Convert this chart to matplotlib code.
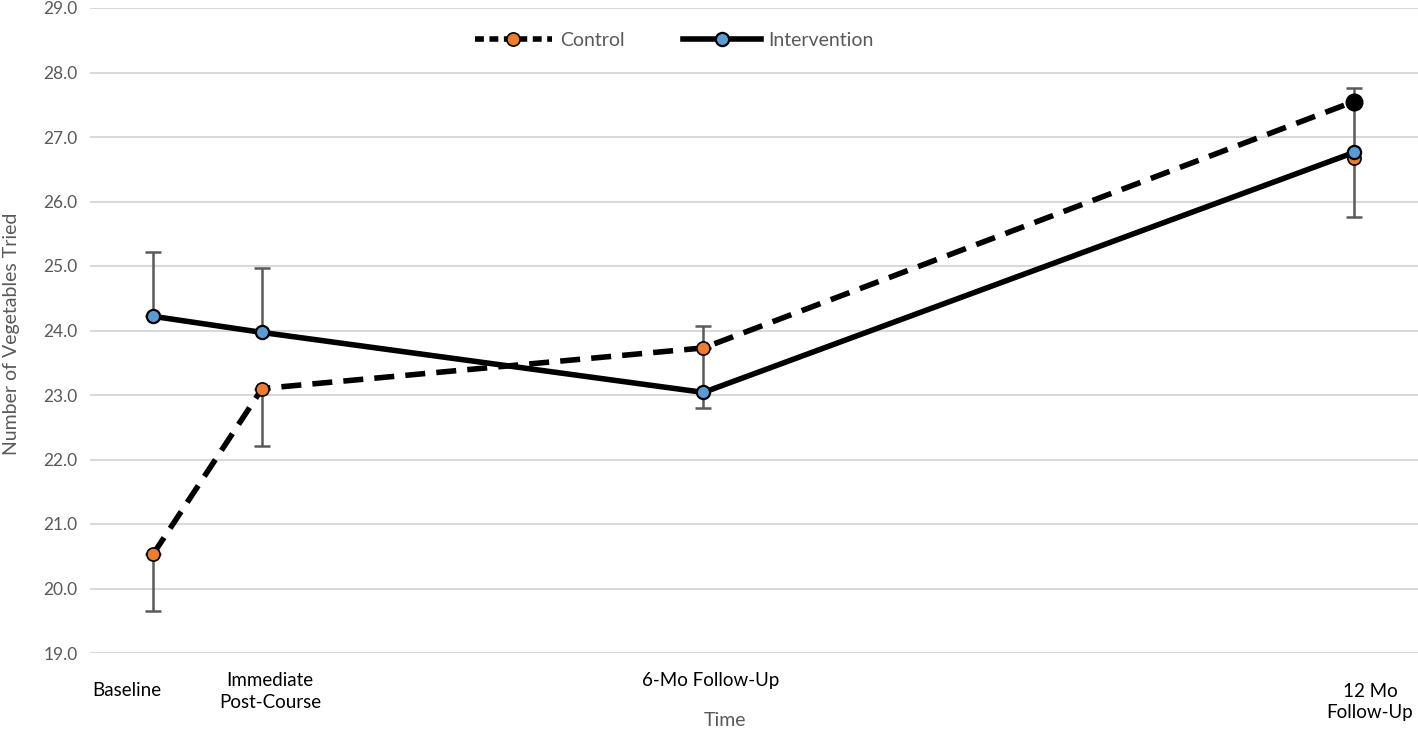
import numpy as np
import matplotlib.pyplot as plt
from matplotlib.lines import Line2D

plt.rcParams['font.family'] = ['Lato', 'DejaVu Sans']

# === DATA ===
time_labels = ['Baseline', 'Immediate\nPost-Course', '6-Mo Follow-Up', '12 Mo\nFollow-Up']
time_x = [0.0, 1.09, 5.5, 12.0]   # approx months, matches spacing in the original

control_means = [20.53, 23.10, 23.73, 27.55]
control_err_lo = [0.88, 0.89, 0.0, 0.0]
control_err_hi = [0.0, 0.0, 0.0, 0.0]
control_12mo_point = 26.67   # stray orange marker at 12 Mo

intervention_means = [24.22, 23.97, 23.04, 26.76]
intervention_err_lo = [0.0, 0.0, 0.24, 1.0]
intervention_err_hi = [1.0, 1.0, 1.03, 1.0]

y_ticks = np.arange(19, 29.5, 1.0)

# colours
orange = '#ED7D31'
blue = '#5B9BD5'
grey_txt = '#595959'
grid_col = '#D9D9D9'

fig = plt.figure(figsize=(14.18, 7.29), dpi=100)
ax = fig.add_axes([90 / 1418, 76 / 729, 1328 / 1418, 645 / 729])

# error bars (one-sided, as in the original)
ax.errorbar(time_x, control_means, yerr=[control_err_lo, control_err_hi], fmt='none',
            ecolor='#5a5a5a', elinewidth=1.8, capsize=6, capthick=1.8, zorder=2)
ax.errorbar(time_x, intervention_means, yerr=[intervention_err_lo, intervention_err_hi], fmt='none',
            ecolor='#5a5a5a', elinewidth=1.8, capsize=6, capthick=1.8, zorder=2)

# lines
ax.plot(time_x, control_means, color='black', lw=4, ls=(0, (3.6, 2.0)), zorder=3)
ax.plot(time_x, intervention_means, color='black', lw=4, zorder=3)

# markers
ax.plot(time_x[:3], control_means[:3], 'o', ms=9.5, mfc=orange, mec='black', mew=1.2, zorder=4)
ax.plot(time_x[3], control_12mo_point, 'o', ms=9.5, mfc=orange, mec='black', mew=1.2, zorder=4)
ax.plot(time_x[3], control_means[3], 'o', ms=12, mfc='black', mec='black', zorder=4)
ax.plot(time_x, intervention_means, 'o', ms=9.5, mfc=blue, mec='black', mew=1.6, zorder=5)

# axes styling
ax.set_xlim(-0.63, 12.64)
ax.set_ylim(19, 29)
ax.set_yticks(y_ticks)
ax.set_yticklabels([f'{v:.1f}' for v in y_ticks], color=grey_txt, fontsize=12.5)
ax.yaxis.grid(True, color=grid_col, lw=1.5)
ax.set_axisbelow(True)
ax.tick_params(axis='y', length=0, pad=9)
ax.set_xticks([])
for s in ax.spines.values():
    s.set_visible(False)

ax.set_ylabel('Number of Vegetables Tried', color=grey_txt, fontsize=14)
ax.yaxis.set_label_coords(-0.0525, 0.495)

# hand-placed time labels
label_dx = [-0.26, 0.08, 0.07, 0.16]
label_dy = [-0.58, -0.6, -0.42, -0.76]
for x, lab, dx, dy in zip(time_x, time_labels, label_dx, label_dy):
    ax.text(x + dx, 19 + dy, lab, ha='center', va='center', fontsize=13.5,
            color='black', linespacing=1.35, clip_on=False)

ax.text(0.478, -0.105, 'Time', transform=ax.transAxes, ha='center', va='center',
        color=grey_txt, fontsize=14)

# legend
handles = [
    Line2D([], [], color='black', lw=4, ls=(0, (1.6, 1.0)), marker='o', ms=9.5,
           mfc=orange, mec='black', mew=1.2),
    Line2D([], [], color='black', lw=4, marker='o', ms=9.5, mfc=blue, mec='black', mew=1.6),
]
leg = ax.legend(handles, ['Control', 'Intervention'], loc='center',
                bbox_to_anchor=(0.44, 0.95), ncol=2, frameon=False, fontsize=14,
                handlelength=4.0, handletextpad=0.4, columnspacing=3.0)
for t in leg.get_texts():
    t.set_color(grey_txt)

fig.savefig('out.png', dpi=100)
